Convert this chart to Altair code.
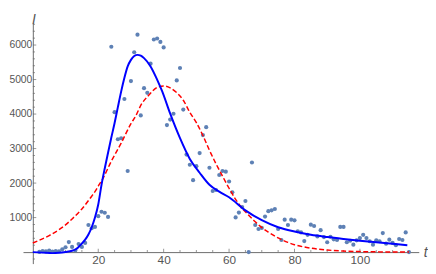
import altair as alt
import pandas as pd

# observed data (day, infected)
t_obs = list(range(2, 116))
i_obs = [5, 30, 20, 45, 15, 30, 25, 80, 140, 290, 150, 45, 235, 150, 265,
         785, 690, 730, 1040, 1170, 1140, 1020, 5950, 4055, 3270, 3300, 4435,
         2350, 4955, 5790, 6300, 3960, 4750, 4615, 5460, 6160, 6190, 6090, 5930,
         3680, 3840, 4010, 4975, 5335, 4130, 2825, 2530, 2085, 2490, 2870, 3390,
         3620, 2445, 1770, 1800, 2235, 2350, 2330, 2045, 1735, 1005, 1145, 1305,
         1480, 0, 2595, 785, 670, 700, 1030, 1185, 1210, 1250, 670, 350, 940,
         785, 940, 920, 605, 570, 320, 500, 795, 755, 455, 635, 435, 285, 445,
         370, 350, 730, 730, 285, 330, 215, 340, 405, 500, 405, 315, 215, 340,
         315, 550, 245, 360, 265, 200, 380, 350, 570, 0]

# blue (solid) fitted curve
blue_t = [0, 3, 6, 8, 10, 12, 13, 14, 15, 16, 17, 18, 19, 20, 21, 22, 23, 24,
          25, 26, 27, 28, 29, 30, 31, 32, 33, 34, 36, 38, 39.5, 42, 45, 48, 51,
          54, 57, 60, 65, 70, 75, 80, 85, 90, 95, 100, 105, 110, 114.5]
blue_i = [0, -15, -30, -20, 5, 40, 75, 150, 250, 360, 510, 720, 1000, 1380,
          1950, 2430, 2880, 3320, 3740, 4200, 4650, 5050, 5380, 5570, 5680, 5715,
          5690, 5620, 5380, 5000, 4670, 4010, 3300, 2700, 2300, 1950, 1750, 1590,
          1210, 925, 720, 595, 500, 435, 380, 330, 285, 240, 200]

# red (dashed) fitted curve
red_t = [0, 5, 8, 10, 12, 15, 18, 19, 20, 21.3, 24, 27, 30, 31.5, 33, 35.5, 38,
         40, 42, 44, 46, 48, 50, 52, 54, 56, 58, 60, 62, 64, 66, 68, 70, 72, 75,
         78, 80, 85, 90, 95, 100, 105, 110, 115]
red_i = [265, 480, 650, 790, 960, 1250, 1620, 1750, 1910, 2110, 2635, 3155, 3720,
         3950, 4250, 4550, 4770, 4815, 4760, 4620, 4400, 4050, 3750, 3380, 2950,
         2560, 2200, 1850, 1530, 1270, 1070, 880, 710, 580, 410, 280, 215, 115,
         60, 30, 15, 7, 3, 1]

x_major = [20, 40, 60, 80, 100]
x_minor = [5, 10, 15, 25, 30, 35, 45, 50, 55, 65, 70, 75, 85, 90, 95, 105, 110, 115]
y_major = [1000, 2000, 3000, 4000, 5000, 6000]
y_minor = [v for v in range(-200, 6601, 200) if v % 1000 != 0]

X_DOM = [-3, 118]
Y_DOM = [-333, 6642]
AX = "#6b6b6b"
LBL = "#555555"
FONT = "Liberation Sans"

xs = alt.Scale(domain=X_DOM, nice=False, zero=False)
ys = alt.Scale(domain=Y_DOM, nice=False, zero=False)

x_axis = alt.Axis(values=x_major, format="d", offset=-11.7, ticks=False, grid=False,
                  domainColor=AX, domainWidth=1, labelColor=LBL, labelFontSize=12,
                  labelFont=FONT, labelPadding=3, labelFlush=False,
                  title="t", titleFontStyle="italic", titleFontWeight="normal",
                  titleFontSize=14, titleFont=FONT, titleColor=LBL, titleX=409.7,
                  titleY=0, titleAlign="center", titleBaseline="middle", titleAngle=0)
y_axis = alt.Axis(values=y_major, format="d", offset=-10, ticks=False, grid=False,
                  domainColor=AX, domainWidth=1, labelColor=LBL, labelFontSize=10.5,
                  labelFont=FONT, labelPadding=1, labelFlush=False,
                  title="I", titleAngle=0, titleX=0.5, titleY=1, titleAlign="center",
                  titleBaseline="alphabetic", titleFontStyle="italic",
                  titleFontWeight="normal", titleFontSize=14, titleFont=FONT,
                  titleColor=LBL)

obs = pd.DataFrame({"t": t_obs, "I": i_obs})
blue = pd.DataFrame({"t": blue_t, "I": blue_i})
red = pd.DataFrame({"t": red_t, "I": red_i})


def X(f="t"):
    return alt.X(f"{f}:Q", scale=xs, axis=x_axis)


def Y(f="I"):
    return alt.Y(f"{f}:Q", scale=ys, axis=y_axis)


xmaj = alt.Chart(pd.DataFrame({"t": x_major})).mark_tick(
    orient="vertical", size=3.5, thickness=1, color=AX, yOffset=-1.75
).encode(x=X(), y=alt.YDatum(0, scale=ys, axis=y_axis))
xmin = alt.Chart(pd.DataFrame({"t": x_minor})).mark_tick(
    orient="vertical", size=2.2, thickness=1, color=AX, yOffset=-1.1
).encode(x=X(), y=alt.YDatum(0, scale=ys, axis=y_axis))
ymaj = alt.Chart(pd.DataFrame({"I": y_major})).mark_tick(
    orient="horizontal", size=3.5, thickness=1, color=AX, xOffset=1.75
).encode(y=Y(), x=alt.XDatum(0, scale=xs, axis=x_axis))
ymin = alt.Chart(pd.DataFrame({"I": y_minor})).mark_tick(
    orient="horizontal", size=2.2, thickness=1, color=AX, xOffset=1.1
).encode(y=Y(), x=alt.XDatum(0, scale=xs, axis=x_axis))

pts = alt.Chart(obs).mark_circle(size=18, color="#5E81B5", opacity=1).encode(x=X(), y=Y())
red_line = alt.Chart(red).mark_line(
    color="#FF0000", strokeWidth=1.5, strokeDash=[5, 2.5], interpolate="monotone"
).encode(x=X(), y=Y())
blue_line = alt.Chart(blue).mark_line(
    color="#0000FF", strokeWidth=2, interpolate="monotone"
).encode(x=X(), y=Y())

chart = alt.layer(xmaj, xmin, ymaj, ymin, pts, red_line, blue_line).properties(
    width=403.3, height=245.3,
    padding={"left": 15.3, "top": 12.7, "right": 9.4, "bottom": 0},
    autosize=alt.AutoSizeParams(type="none"),
).configure_view(stroke=None)

chart.save("out.html", embed_options={"renderer": "svg", "actions": False})
